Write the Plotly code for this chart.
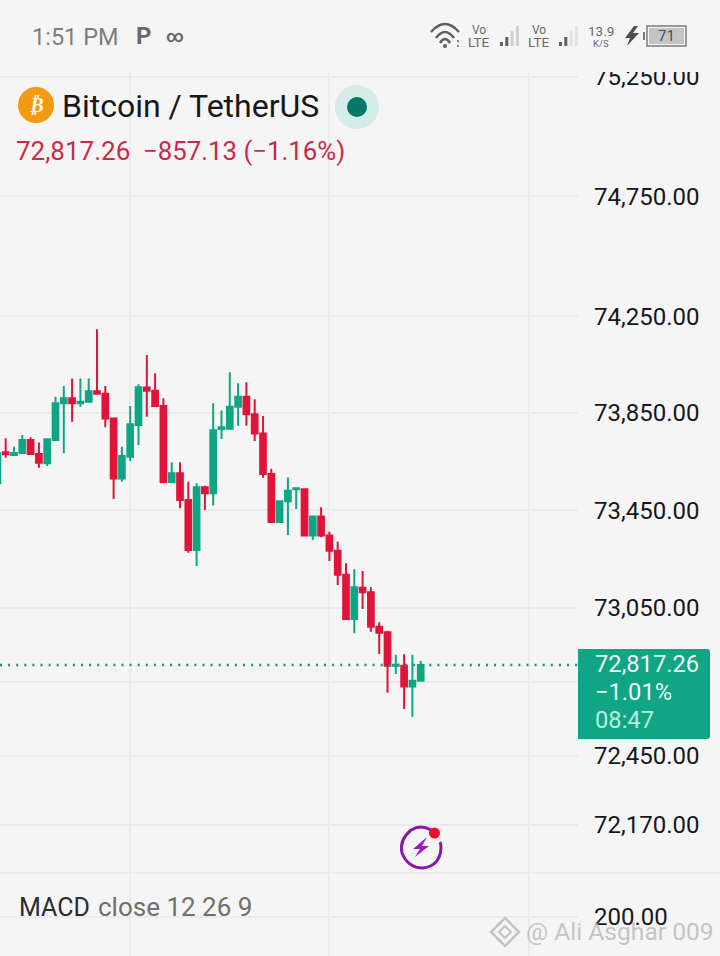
import math
import plotly.graph_objects as go

# ---- data ----
candle_index = list(range(-1, 51))
open_prices = [73561, 73688, 73677, 73685, 73739, 73681, 73643, 73739, 73890, 73911, 73890, 73897, 73940, 73930,
               73827, 73580, 73670, 73801, 73955, 73942, 73879, 73566, 73602, 73492, 73287, 73544, 73520, 73784,
               73785, 73876, 73917, 73845, 73766, 73599, 73402, 73487, 73536, 73536, 73346, 73424, 73346, 73284,
               73186, 73005, 73133, 73114, 72974, 72951, 72815, 72815, 72730, 72754]
high_prices = [73684, 73746, 73711, 73759, 73750, 73729, 73746, 73917, 73962, 73993, 73993, 73993, 74196, 73962,
               73827, 73711, 73879, 73969, 74090, 74014, 73911, 73647, 73647, 73567, 73561, 73551, 73890, 73860,
               74018, 73973, 73977, 73907, 73838, 73620, 73489, 73585, 73540, 73540, 73424, 73462, 73362, 73321,
               73233, 73208, 73201, 73135, 72992, 72957, 72859, 72861, 72859, 72834]
low_prices = [73550, 73666, 73674, 73684, 73681, 73625, 73632, 73739, 73684, 73814, 73876, 73897, 73930, 73791,
              73496, 73567, 73652, 73718, 73835, 73876, 73566, 73566, 73458, 73276, 73222, 73451, 73469, 73743,
              73784, 73798, 73798, 73735, 73584, 73402, 73402, 73349, 73455, 73346, 73328, 73339, 73242, 73144,
              73005, 72947, 73046, 72953, 72863, 72705, 72781, 72639, 72608, 72754]
close_prices = [73684, 73680, 73685, 73739, 73681, 73645, 73742, 73890, 73911, 73890, 73897, 73940, 73930, 73827,
                73580, 73673, 73804, 73956, 73942, 73879, 73566, 73602, 73492, 73287, 73544, 73520, 73779, 73791,
                73876, 73917, 73845, 73766, 73599, 73402, 73487, 73530, 73540, 73346, 73424, 73346, 73284, 73186,
                73005, 73135, 73114, 72974, 72949, 72815, 72819, 72730, 72754, 72817.26]
last_price = 72817.26
price_ticks = [72170, 72450, 72750, 73050, 73450, 73850, 74250, 74750, 75250]
price_tick_labels = ["72,170.00", "72,450.00", "", "73,050.00", "73,450.00", "73,850.00",
                     "74,250.00", "74,750.00", "75,250.00"]
macd_ticks = [200]
macd_tick_labels = ["200.00"]
day_lines = [15, 39, 63]

# ---- styling / layout ----
W, H = 720, 956
BG = "#f5f5f5"
GRID = "#ebebeb"
UP = "#0fa585"
DOWN = "#e0143a"
INK = "#17171c"
PANE_R = 578
PANE_T, PANE_B = 72, 873

def px(x):
    return x / W
def py(y):
    return 1 - y / H

def path(*cmds):
    out = []
    for c in cmds:
        out.append(c[0] + " ".join(
            f"{px(c[i]):.5f},{py(c[i+1]):.5f}" for i in range(1, len(c), 2)))
    return " ".join(out)

shapes = []
def add_path(d, fill=None, line=None, lw=0):
    shapes.append(dict(type="path", xref="paper", yref="paper", layer="above", path=d,
                       fillcolor=fill or "rgba(0,0,0,0)",
                       line=dict(color=line or "rgba(0,0,0,0)", width=lw)))
def add_circle(cx, cy, r, fill=None, line=None, lw=0):
    shapes.append(dict(type="circle", xref="paper", yref="paper", layer="above",
                       x0=px(cx - r), x1=px(cx + r), y0=py(cy + r), y1=py(cy - r),
                       fillcolor=fill or "rgba(0,0,0,0)",
                       line=dict(color=line or "rgba(0,0,0,0)", width=lw)))
def add_rect(x0, y0, x1, y1, fill=None, line=None, lw=0):
    shapes.append(dict(type="rect", xref="paper", yref="paper", layer="above",
                       x0=px(x0), x1=px(x1), y0=py(y1), y1=py(y0),
                       fillcolor=fill or "rgba(0,0,0,0)",
                       line=dict(color=line or "rgba(0,0,0,0)", width=lw)))

annos = []
def text(x, y, s, size, color=INK, anchor="left", font="Roboto", **kw):
    annos.append(dict(xref="paper", yref="paper", x=px(x), y=py(y), text=s, showarrow=False,
                      xanchor=anchor, yanchor="middle", borderpad=0, borderwidth=0,
                      font=dict(family=font, size=size, color=color), **kw))

# status bar mask (hides the clipped top of the price scale)
add_rect(0, 0, W, PANE_T, fill=BG)
# pane divider
add_rect(0, 872, W, 873.5, fill=GRID)
# price tag
r = 3
add_path(path(("M", 578, 649), ("L", 710 - r, 649), ("Q", 710, 649, 710, 649 + r),
              ("L", 710, 739 - r), ("Q", 710, 739, 710 - r, 739), ("L", 578, 739)) + " Z", fill=UP)

# status bar
text(32, 37, "1:51 PM", 23.5, "#7d7d7d")
text(143, 36, "<b>P</b>", 24, "#6a6a6a", "center")
text(175, 36, "<b>∞</b>", 17, "#6a6a6a", "center")
# wifi
for yy, hw, lift in [(32, 14, 8), (38, 9, 6), (43, 5, 4)]:
    add_path(path(("M", 445 - hw, yy), ("Q", 445, yy - lift * 2, 445 + hw, yy)), line="#5f5f5f", lw=2.5)
add_circle(445, 46, 2, fill="#5f5f5f")
add_circle(458, 41, 1, fill="#5f5f5f")
add_circle(458, 46, 1, fill="#5f5f5f")
for lx in (479, 539):
    text(lx, 30, "Vo", 12, "#6a6a6a", "center")
    text(lx, 42.5, "LTE", 13.5, "#6a6a6a", "center")
for bx, shade in ((500, "#d0d0d0"), (559, "#e2e2e2")):
    for i, (t0, col) in enumerate([(42, "#5f5f5f"), (37, "#5f5f5f"), (31, shade), (26, shade)]):
        add_rect(bx + i * 5.3, t0, bx + i * 5.3 + 3, 46, fill=col)
text(601, 31, "13.9", 13.5, "#6a6a6a", "center")
text(601, 44, "K/S", 9.5, "#6a6a6a", "center")
add_path(path(("M", 634, 26), ("L", 625, 38), ("L", 630, 38), ("L", 627, 46), ("L", 639, 33),
              ("L", 633, 33), ("L", 638, 26)) + " Z", fill="#4e4e4e")
add_rect(647, 26, 686, 46, line="#7a7a7a", lw=1.5)
add_rect(649, 28, 684, 44, fill="#c4c4c4")
add_rect(643, 32, 645, 40, fill="#7a7a7a")
text(666, 36, "71", 15, "#4e4e4e", "center")

# header
add_circle(36, 105, 18, fill="#f39a13")
text(36, 105, "<b><i>₿</i></b>", 20, "#fff5e0", "center", "DejaVu Sans")
text(62, 106, "Bitcoin / TetherUS", 32, INK)
add_circle(357, 107, 22, fill="#d5ebe7")
add_circle(357, 107, 10, fill="#00786a")
text(16, 151, "72,817.26", 26, "#c92a48")
text(143, 151, "−857.13 (−1.16%)", 25.8, "#c92a48")

# tag text
text(595, 664, "72,817.26", 23.7, "#eafaf5")
text(595, 692, "−1.01%", 23.7, "#eafaf5")
text(595, 720, "08:47", 23.7, "#b9efde")

# flash badge
add_path(path(("M", 431, 830), ("Q", 421, 824, 411, 830), ("Q", 399, 840, 402, 853),
              ("Q", 408, 868, 423, 868), ("Q", 440, 866, 441, 848), ("Q", 441, 844, 440, 842)),
         line="#8a1aa5", lw=3)
add_path(path(("M", 427, 837), ("L", 413, 849), ("L", 420, 849), ("L", 415, 857), ("L", 429, 846),
              ("L", 422, 846)) + " Z", fill="#9a1fb8")
add_circle(434.5, 833, 5.5, fill="#e8112d")

# MACD label
text(19, 907, "MACD", 25, "#2b2b33")
text(98, 907, "close 12 26 9", 26, "#6f6f6f")

# watermark
wm = "rgba(190,190,190,0.9)"
add_path(path(("M", 505, 918), ("L", 519, 932), ("L", 505, 946), ("L", 491, 932)) + " Z", line=wm, lw=2.5)
add_path(path(("M", 505, 926), ("L", 511, 932), ("L", 505, 938), ("L", 499, 932)) + " Z", line=wm, lw=2)
text(526, 931, "@ Ali Asghar 009", 24.6, wm)

STEP = 8.3
X0 = 5.7
x_range = [-X0 / STEP, (PANE_R - X0) / STEP]

FACTOR = 17900.0
def y_to_price(y):
    return 73050 * math.exp((608 - y) / FACTOR)

fig = go.Figure()
fig.add_trace(go.Candlestick(
    x=candle_index, open=open_prices, high=high_prices, low=low_prices, close=close_prices,
    increasing=dict(line=dict(color=UP, width=2), fillcolor=UP),
    decreasing=dict(line=dict(color=DOWN, width=2), fillcolor=DOWN),
    whiskerwidth=0, hoverinfo="skip", showlegend=False))
fig.add_trace(go.Scatter(
    x=[x_range[0], x_range[1]], y=[last_price, last_price], mode="lines",
    line=dict(color="#0a9a80", width=2.5, dash="2px,6.1px"), hoverinfo="skip", showlegend=False))
fig.add_trace(go.Scatter(
    x=[0, 1], y=[macd_ticks[0], macd_ticks[0]], mode="lines", xaxis="x2", yaxis="y2",
    line=dict(color="rgba(0,0,0,0)", width=0), hoverinfo="skip", showlegend=False))

axis_font = dict(family="Roboto", size=24, color=INK)
common_x = dict(range=x_range, tickmode="array", tickvals=day_lines, showticklabels=False, ticks="",
                showgrid=True, gridcolor=GRID, gridwidth=1.5, zeroline=False, showline=False,
                domain=[0, PANE_R / W], fixedrange=True)
fig.update_layout(
    width=W, height=H, margin=dict(l=0, r=0, t=0, b=0, pad=0, autoexpand=False), autosize=False,
    paper_bgcolor=BG, plot_bgcolor=BG, showlegend=False, boxgap=0.02,
    xaxis=dict(anchor="y", rangeslider=dict(visible=False), **common_x),
    xaxis2=dict(anchor="y2", **common_x),
    yaxis=dict(type="log", anchor="x", side="right",
               domain=[py(PANE_B), py(PANE_T)],
               range=[math.log10(y_to_price(PANE_B)), math.log10(y_to_price(PANE_T))],
               tickmode="array", tickvals=price_ticks, ticktext=price_tick_labels,
               tickfont=axis_font, ticks="", ticklabelstandoff=15,
               showgrid=True, gridcolor=GRID, gridwidth=1.5, zeroline=False, showline=False, fixedrange=True),
    yaxis2=dict(anchor="x2", side="right", domain=[0, py(PANE_B)],
                range=[153, 253], tickmode="array", tickvals=macd_ticks, ticktext=macd_tick_labels,
                tickfont=axis_font, ticks="", ticklabelstandoff=15,
                showgrid=True, gridcolor=GRID, gridwidth=1.5, zeroline=False, showline=False, fixedrange=True),
    shapes=shapes, annotations=annos,
)
fig.write_html("out.html", config=dict(displayModeBar=False),
               post_script="document.body.style.margin='0';document.documentElement.style.overflow='hidden';")
